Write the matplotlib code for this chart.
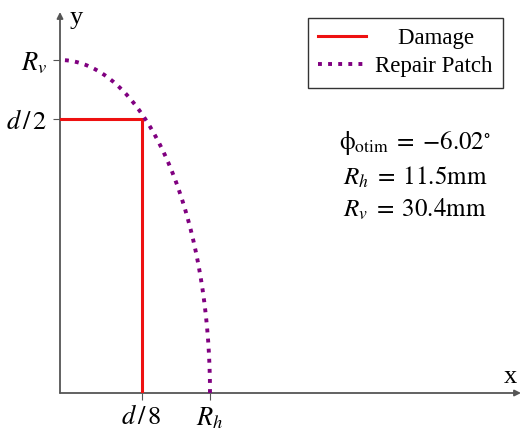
import numpy as np
import matplotlib
matplotlib.use("Agg")
import matplotlib.pyplot as plt

plt.rcParams['font.family'] = ['Liberation Serif', 'DejaVu Serif']
plt.rcParams['mathtext.fontset'] = 'stix'

# data
d = 50.0
Rh = 11.5
Rv = 30.4
phi = -6.02
xticks = [d / 8, Rh]
xticklabels = [r'$d\,/\,8$', r'$R_h$']
yticks = [d / 2, Rv]
yticklabels = [r'$d\,/\,2$', r'$R_v$']

fig = plt.figure(figsize=(5.22, 4.32), dpi=100)
W, H = 522, 432
ax = fig.add_axes([60 / W, 39 / H, (521 - 60) / W, (393 - 12) / H])
sx = 150 / Rh
sy = 333 / Rv
ax.set_xlim(0, (521 - 60) / sx)
ax.set_ylim(0, (393 - 12) / sy)

for s in ax.spines.values():
    s.set_visible(False)

# axes arrows
ax.annotate('', xy=(1.0, 0), xytext=(0, 0), xycoords='axes fraction',
            arrowprops=dict(arrowstyle='-|>', color='#555555', lw=1.3,
                            mutation_scale=9, shrinkA=0, shrinkB=0))
ax.annotate('', xy=(0, 1.0), xytext=(0, 0), xycoords='axes fraction',
            arrowprops=dict(arrowstyle='-|>', color='#555555', lw=1.3,
                            mutation_scale=9, shrinkA=0, shrinkB=0))

# damage
ax.plot([0, d / 8, d / 8], [d / 2, d / 2, 0], color='#ee1111', lw=2.2,
        label='    Damage', solid_joinstyle='miter', zorder=3)
# repair patch (quarter ellipse)
t = np.linspace(0, np.pi / 2, 200)
ax.plot(Rh * np.cos(t), Rv * np.sin(t), color='#800080', lw=2.8,
        linestyle=(0, (1, 1.6)), label='Repair Patch', zorder=3)

ax.set_xticks(xticks)
ax.set_xticklabels(xticklabels, fontsize=19)
ax.set_yticks(yticks)
ax.set_yticklabels(yticklabels, fontsize=19)
ax.tick_params(axis='both', length=5, width=0.8, color='#555555', pad=4)

ax.text((510 - 60) / sx, (393 - 377) / sy, 'x', fontsize=19, ha='center', va='center')
ax.text((76 - 60) / sx, (393 - 18) / sy, 'y', fontsize=19, ha='center', va='center')

leg = ax.legend(loc='upper right', bbox_to_anchor=((503 - 60) / (521 - 60), (393 - 18) / (393 - 12)),
                fontsize=16.5, frameon=True, fancybox=False, edgecolor='black',
                handlelength=2.1, borderpad=0.45, labelspacing=0.3, handletextpad=0.4,
                borderaxespad=0)
leg.get_frame().set_linewidth(1.0)

ax.text((415 - 60) / sx, (393 - 143) / sy, r'$\mathrm{\phi}_{\mathrm{otim}}\;=\;{-}6.02^{\circ}$',
        fontsize=18, ha='center', va='center')
ax.text((415 - 60) / sx, (393 - 177) / sy, r'$R_h\;=\;11.5\mathrm{mm}$',
        fontsize=18, ha='center', va='center')
ax.text((415 - 60) / sx, (393 - 209) / sy, r'$R_v\;=\;30.4\mathrm{mm}$',
        fontsize=18, ha='center', va='center')

fig.savefig('out.png', dpi=100)
